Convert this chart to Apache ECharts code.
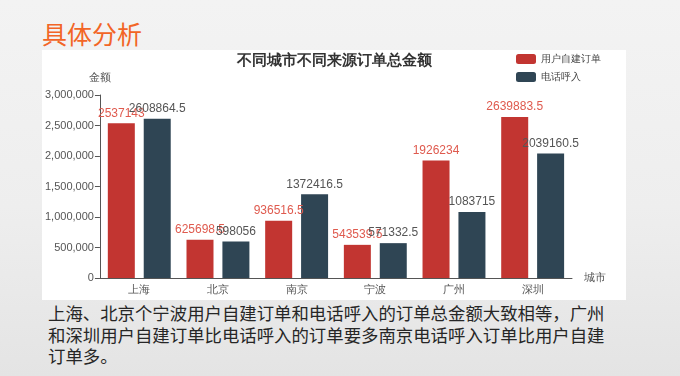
<!DOCTYPE html>
<html>
<head>
<meta charset="utf-8">
<script src="https://cdn.jsdelivr.net/npm/echarts@6/dist/echarts.min.js"></script>
<style>
  html, body { margin: 0; padding: 0; }
  body {
    width: 680px; height: 376px; position: relative; overflow: hidden;
    background: linear-gradient(180deg, #f3f3f3 0%, #eeeeee 55%, #e4e4e4 100%);
    font-family: "Noto Sans CJK SC", sans-serif;
  }
  #head {
    position: absolute; left: 42px; top: 16px;
    font-size: 25px; color: #f26526; line-height: 34px;
  }
  #main {
    position: absolute; left: 42px; top: 50px;
    width: 584px; height: 250px; background: #fff;
  }
  #note {
    position: absolute; left: 48px; top: 302px;
    font-size: 17.4px; line-height: 21.5px; color: #262626;
  }
</style>
</head>
<body>
<div id="head">具体分析</div>
<div id="main"></div>
<div id="note">上海、北京个宁波用户自建订单和电话呼入的订单总金额大致相等，广州<br>和深圳用户自建订单比电话呼入的订单要多南京电话呼入订单比用户自建<br>订单多。</div>
<script>
// 城市
var cities = ['上海', '北京', '南京', '宁波', '广州', '深圳'];
// 用户自建订单
var selfOrders = [2537143, 625698.5, 936516.5, 543539.5, 1926234, 2639883.5];
// 电话呼入
var phoneOrders = [2608864.5, 598056, 1372416.5, 571332.5, 1083715, 2039160.5];

var chart = echarts.init(document.getElementById('main'));

var option = {
  animation: false,
  color: ['#c23531', '#2f4554'],
  title: {
    text: '不同城市不同来源订单总金额',
    left: 'center',
    top: 0,
    padding: [3, 5],
    textStyle: { fontSize: 15, fontWeight: 'bold', color: '#333' }
  },
  legend: {
    orient: 'vertical',
    left: 474,
    top: 4,
    padding: 0,
    itemWidth: 20,
    itemHeight: 10,
    itemGap: 8,
    textStyle: { fontSize: 10, color: '#444' },
    data: ['用户自建订单', '电话呼入']
  },
  grid: { left: 56, right: 54, top: 45, bottom: 22 },
  xAxis: {
    type: 'category',
    name: '城市',
    nameGap: 12,
    nameTextStyle: { fontSize: 11, color: '#555' },
    data: cities,
    axisLine: { lineStyle: { color: '#555' } },
    axisLabel: { fontSize: 11, color: '#555', margin: 6 }
  },
  yAxis: {
    type: 'value',
    name: '金额',
    nameGap: 12,
    nameTextStyle: { fontSize: 11, color: '#555' },
    min: 0,
    max: 3000000,
    interval: 500000,
    axisLine: { show: true, lineStyle: { color: '#555' } },
    axisTick: { show: true },
    axisLabel: { fontSize: 11, color: '#555', margin: 6 },
    splitLine: { show: false }
  },
  series: [
    {
      name: '用户自建订单',
      type: 'bar',
      barWidth: 27,
      barGap: '33%',
      data: selfOrders,
      label: { show: true, position: 'top', distance: 4, fontSize: 12, color: '#df5a4e' }
    },
    {
      name: '电话呼入',
      type: 'bar',
      barWidth: 27,
      data: phoneOrders,
      label: { show: true, position: 'top', distance: 4, fontSize: 12, color: '#555' }
    }
  ]
};
chart.setOption(option);
</script>
</body>
</html>
